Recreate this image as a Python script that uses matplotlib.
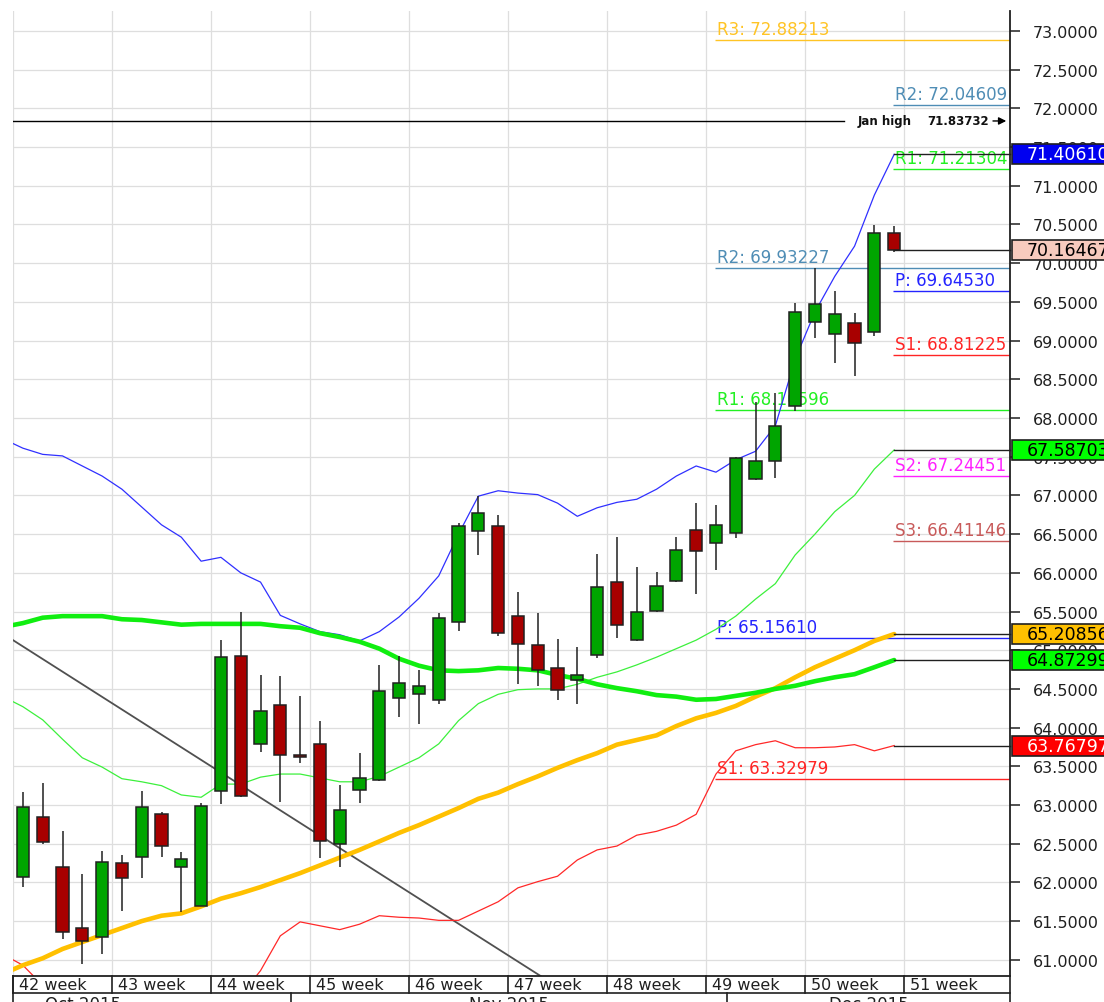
import numpy as np
import matplotlib
matplotlib.use("Agg")
import matplotlib.pyplot as plt
from matplotlib.transforms import blended_transform_factory
from matplotlib.patches import Rectangle

# ---------------- data ----------------
week_labels = ["42 week", "43 week", "44 week", "45 week", "46 week",
               "47 week", "48 week", "49 week", "50 week", "51 week"]
month_labels = ["Oct 2015", "Nov 2015", "Dec 2015"]
month_label_pos = [3.03, 24.55, 42.7]
month_breaks = [13.54, 35.56]

opens = [62.07, 62.85, 62.20, 61.41, 61.30, 62.25, 62.33, 62.88, 62.20, 61.70,
         63.18, 64.93, 63.79, 64.29, 63.64, 63.79, 62.50, 63.19, 63.32, 64.38,
         64.43, 64.36, 65.36, 66.54, 66.60, 65.44, 65.07, 64.77, 64.61, 64.94,
         65.88, 65.13, 65.51, 65.89, 66.55, 66.39, 66.51, 67.21, 67.44, 68.15,
         69.24, 69.09, 69.23, 69.11, 70.39]
highs = [63.17, 63.28, 62.66, 62.11, 62.41, 62.35, 63.18, 62.91, 62.39, 63.03,
         65.13, 65.49, 64.68, 64.67, 64.41, 64.09, 63.26, 63.67, 64.81, 64.93,
         64.74, 65.48, 66.64, 66.99, 66.75, 65.75, 65.48, 65.14, 65.04, 66.24,
         66.46, 66.08, 66.01, 66.46, 66.90, 66.88, 67.50, 68.21, 68.32, 69.49,
         69.94, 69.64, 69.36, 70.49, 70.48]
lows = [61.94, 62.50, 61.27, 60.95, 61.07, 61.63, 62.06, 62.33, 61.62, 61.69,
        63.01, 63.10, 63.69, 63.04, 63.54, 62.32, 62.20, 63.03, 63.31, 64.14,
        64.05, 64.31, 65.25, 66.23, 65.18, 64.56, 64.54, 64.36, 64.31, 64.90,
        65.16, 65.12, 65.50, 65.88, 65.73, 66.04, 66.45, 67.20, 67.22, 68.09,
        69.03, 68.71, 68.54, 69.06, 70.14]
closes = [62.97, 62.52, 61.36, 61.24, 62.26, 62.06, 62.97, 62.47, 62.30, 62.99,
          64.91, 63.12, 64.21, 63.65, 63.62, 62.54, 62.94, 63.35, 64.47, 64.58,
          64.54, 65.42, 66.60, 66.77, 65.22, 65.08, 64.74, 64.49, 64.68, 65.82,
          65.33, 65.49, 65.83, 66.29, 66.28, 66.62, 67.48, 67.44, 67.90, 69.37,
          69.47, 69.34, 68.97, 70.39, 70.16467]

# indicator series start one bar before the first candle (index -1)
bb_upper = [67.73, 67.61, 67.53, 67.51, 67.38, 67.25, 67.08, 66.85, 66.62, 66.46,
            66.15, 66.20, 66.00, 65.88, 65.45, 65.34, 65.24, 65.20, 65.12, 65.24,
            65.43, 65.67, 65.96, 66.50, 66.99, 67.06, 67.03, 67.01, 66.90, 66.73,
            66.84, 66.91, 66.95, 67.08, 67.25, 67.38, 67.30, 67.46, 67.57, 67.90,
            68.76, 69.37, 69.83, 70.22, 70.88, 71.40610]
bb_mid = [64.40, 64.27, 64.10, 63.85, 63.61, 63.49, 63.34, 63.30, 63.25, 63.13,
          63.10, 63.27, 63.27, 63.36, 63.40, 63.40, 63.35, 63.30, 63.30, 63.37,
          63.49, 63.61, 63.79, 64.09, 64.31, 64.43, 64.49, 64.50, 64.50, 64.56,
          64.65, 64.72, 64.81, 64.91, 65.02, 65.13, 65.27, 65.44, 65.66, 65.86,
          66.23, 66.50, 66.79, 67.00, 67.34, 67.58703]
bb_lower = [61.07, 60.93, 60.67, 60.19, 59.84, 59.73, 59.60, 59.75, 59.88, 59.80,
            60.05, 60.34, 60.54, 60.86, 61.31, 61.49, 61.44, 61.39, 61.46, 61.57,
            61.55, 61.54, 61.51, 61.51, 61.63, 61.75, 61.93, 62.01, 62.08, 62.29,
            62.42, 62.47, 62.61, 62.66, 62.74, 62.88, 63.40, 63.70, 63.78, 63.83,
            63.74, 63.74, 63.75, 63.78, 63.70, 63.76797]
ma_green = [65.30, 65.35, 65.42, 65.44, 65.44, 65.44, 65.40, 65.39, 65.36, 65.33,
            65.34, 65.34, 65.34, 65.34, 65.31, 65.29, 65.22, 65.17, 65.11, 65.02,
            64.89, 64.80, 64.74, 64.73, 64.74, 64.77, 64.76, 64.74, 64.68, 64.63,
            64.56, 64.51, 64.47, 64.42, 64.40, 64.36, 64.37, 64.41, 64.45, 64.50,
            64.54, 64.60, 64.65, 64.69, 64.78, 64.87299]
ma_orange = [60.82, 60.93, 61.02, 61.14, 61.23, 61.32, 61.41, 61.50, 61.57, 61.60,
             61.69, 61.79, 61.86, 61.94, 62.03, 62.12, 62.22, 62.32, 62.42, 62.53,
             62.64, 62.74, 62.85, 62.96, 63.08, 63.16, 63.27, 63.37, 63.48, 63.58,
             63.67, 63.78, 63.84, 63.90, 64.02, 64.12, 64.19, 64.28, 64.40, 64.51,
             64.65, 64.78, 64.89, 65.00, 65.12, 65.20856]

trend_x = [-0.5, 26.15]
trend_y = [65.13, 60.79]

jan_high = 71.83732

pivot_prev_names = ["R3", "R2", "R1", "P", "S1"]
pivot_prev_values = [72.88213, 69.93227, 68.10596, 65.15610, 63.32979]
pivot_cur_names = ["R2", "R1", "P", "S1", "S2", "S3"]
pivot_cur_values = [72.04609, 71.21304, 69.64530, 68.81225, 67.24451, 66.41146]

# ---------------- style ----------------
pivot_colors = {"R3": "#FFC425", "R2": "#4F8DB5", "R1": "#22F022", "P": "#2424FF",
                "S1": "#FF2424", "S2": "#FF22FF", "S3": "#C85A5A"}
UP = "#00A500"
DOWN = "#A80000"
GRID = "#DEDEDE"

W, H = 1104, 1003
fig = plt.figure(figsize=(W / 100, H / 100), dpi=100)
fig.patch.set_facecolor("white")
ax_l, ax_r, ax_t, ax_b = 13, 1010, 12, 977
ax = fig.add_axes([ax_l / W, (H - ax_b) / H, (ax_r - ax_l) / W, (ax_b - ax_t) / H])
ax.set_facecolor("white")

n = len(closes)
xs = np.arange(n)
xi = np.arange(-1, n)
x_right = 49.85
ax.set_xlim(-0.5, x_right)
ax.set_ylim(60.791, 73.258)

# grid
yt = np.arange(61.0, 73.01, 0.5)
for y in yt:
    ax.axhline(y, color=GRID, lw=0.9, zorder=0)
for k in range(len(week_labels)):
    ax.axvline(-0.5 + 5 * k, color=GRID, lw=0.9, zorder=0)

# pivot levels
def draw_pivots(names, values, xstart):
    for nm, v in zip(names, values):
        c = pivot_colors[nm]
        ax.plot([xstart, x_right], [v, v], color=c, lw=1.0, zorder=1, solid_capstyle="butt")
        ax.annotate(f"{nm}: {v:.5f}", xy=(xstart, v), xytext=(2, 2), textcoords="offset pixels",
                    color=c, fontsize=12, ha="left", va="bottom", zorder=1)

draw_pivots(pivot_prev_names, pivot_prev_values, 34.95)
draw_pivots(pivot_cur_names, pivot_cur_values, 43.95)

# Jan high
ax.plot([-0.5, 41.46], [jan_high, jan_high], color="black", lw=1.0, zorder=2)
ax.text(42.17, jan_high, "Jan high", fontsize=8.5, fontweight="bold", color="#111",
        ha="left", va="center", zorder=2)
ax.text(45.66, jan_high, f"{jan_high:.5f}", fontsize=8.5, fontweight="bold", color="#111",
        ha="left", va="center", zorder=2)
ax.annotate("", xy=(x_right - 0.05, jan_high), xytext=(48.85, jan_high),
            arrowprops=dict(arrowstyle="-|>", color="black", lw=1.0, mutation_scale=11),
            zorder=2)

# trendline
ax.plot(trend_x, trend_y, color="#505050", lw=1.3, zorder=2)

# indicators
ax.plot(xi, bb_upper, color="#3030FF", lw=0.9, zorder=2)
ax.plot(xi, bb_mid, color="#3CF03C", lw=0.9, zorder=2)
ax.plot(xi, bb_lower, color="#FF2828", lw=0.9, zorder=2)
ax.plot(xi, ma_orange, color="#FFC000", lw=3.3, zorder=2, solid_capstyle="round")
ax.plot(xi, ma_green, color="#10EE10", lw=3.3, zorder=2, solid_capstyle="round")

# candles
o = np.array(opens); c = np.array(closes)
ax.vlines(xs, lows, highs, color="#202020", lw=1.1, zorder=3)
body_bottom = np.minimum(o, c)
body_h = np.maximum(np.abs(c - o), 0.02)
cols = [UP if cc >= oo else DOWN for oo, cc in zip(o, c)]
ax.bar(xs, body_h, bottom=body_bottom, width=0.62, color=cols, edgecolor="#202020",
       linewidth=1.1, zorder=4)

# last-value connectors & tags
last_x = xs[-1]
tags = [(bb_upper[-1], "#0000F0", "white"),
        (closes[-1], "#F7CBBE", "black"),
        (bb_mid[-1], "#00FF00", "black"),
        (ma_orange[-1], "#FFC000", "black"),
        (ma_green[-1], "#00FF00", "black"),
        (bb_lower[-1], "#FF0000", "white")]
bt = blended_transform_factory(ax.transAxes, ax.transData)
ax_w = ax_r - ax_l
box_h = 20 / 77.4
for v, bg, fg in tags:
    ax.plot([last_x, x_right], [v, v], color="#202020", lw=1.0, zorder=5, clip_on=False)
    r = Rectangle(((1012 - ax_l) / ax_w, v - box_h / 2), (1110 - 1012) / ax_w, box_h,
                  transform=bt, facecolor=bg, edgecolor="#202020", lw=1.2,
                  clip_on=False, zorder=10)
    ax.add_patch(r)
    ax.text((1027 - ax_l) / ax_w, v, f"{v:.5f}", transform=bt, color=fg,
            fontsize=12.5, ha="left", va="center", zorder=11, clip_on=False)

# axes styling
for s in ["top", "left"]:
    ax.spines[s].set_visible(False)
ax.spines["right"].set_color("#202020")
ax.spines["right"].set_linewidth(1.3)
ax.spines["bottom"].set_color("#202020")
ax.spines["bottom"].set_linewidth(1.3)
ax.yaxis.tick_right()
ax.set_yticks(yt)
ax.set_yticklabels([f"{v:.4f}" for v in yt])
ax.tick_params(axis="y", direction="out", length=7.2, width=1.1, pad=9,
               labelsize=11.5, colors="#202020")
ax.set_xticks([])

# bottom tiers (week row, month row)
ppx = 1.0 / (ax_b - ax_t)
bx = blended_transform_factory(ax.transData, ax.transAxes)
row1 = -17 * ppx
row2 = -32 * ppx
ax.plot([-0.5, x_right], [row1, row1], transform=bx, color="#202020", lw=1.2, clip_on=False)
for k, lab in enumerate(week_labels):
    xl = -0.5 + 5 * k
    ax.plot([xl, xl], [0, row1], transform=bx, color="#202020", lw=1.2, clip_on=False)
    ax.text(xl + 0.3, row1 / 2, lab, transform=bx, fontsize=11.5, color="#202020",
            ha="left", va="center", clip_on=False)
ax.plot([x_right, x_right], [0, row2], transform=bx, color="#202020", lw=1.2, clip_on=False)
ax.plot([-0.5, -0.5], [0, row2], transform=bx, color="#202020", lw=1.2, clip_on=False)
for mb in month_breaks:
    ax.plot([mb, mb], [row1, row2], transform=bx, color="#202020", lw=1.2, clip_on=False)
for mp, ml in zip(month_label_pos, month_labels):
    ax.text(mp, row1 - 2 * ppx, ml, transform=bx, fontsize=12, color="#202020",
            ha="center", va="top", clip_on=False)

fig.savefig("out.png", dpi=100, facecolor="white")
